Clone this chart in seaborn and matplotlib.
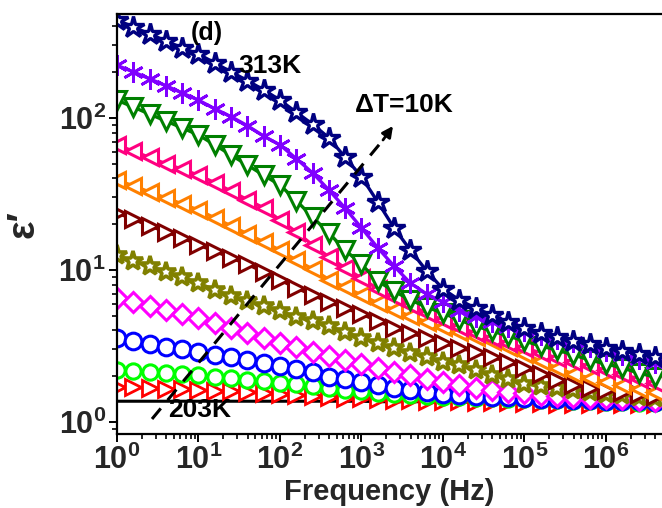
import matplotlib
matplotlib.use("Agg")
import matplotlib.pyplot as plt
import seaborn as sns
from matplotlib.ticker import FixedLocator, LogLocator, NullFormatter

# Frequency grid (Hz), five points per decade
freq = [1, 1.585, 2.512, 3.981, 6.310, 10, 15.85, 25.12, 39.81, 63.10,
        100, 158.5, 251.2, 398.1, 631.0, 1000, 1585, 2512, 3981, 6310,
        1e4, 15850, 25120, 39810, 63100, 1e5, 158500, 251200, 398100, 631000,
        1e6, 1585000, 2512000, 3981000]

# Real part of permittivity at each temperature
eps_203 = [1.37, 1.37, 1.37, 1.37, 1.37, 1.37, 1.37, 1.37, 1.37, 1.37,
           1.37, 1.37, 1.37, 1.37, 1.37, 1.37, 1.36, 1.36, 1.36, 1.36,
           1.35, 1.35, 1.35, 1.34, 1.34, 1.33, 1.33, 1.32, 1.32, 1.31,
           1.31, 1.30, 1.30, 1.30]
eps_213 = [1.70, 1.69, 1.67, 1.65, 1.65, 1.62, 1.60, 1.60, 1.58, 1.55,
           1.53, 1.51, 1.48, 1.46, 1.44, 1.44, 1.42, 1.40, 1.40, 1.37,
           1.37, 1.37, 1.35, 1.35, 1.35, 1.33, 1.33, 1.32, 1.32, 1.32,
           1.32, 1.32, 1.32, 1.32]
eps_223 = [2.20, 2.17, 2.13, 2.10, 2.07, 2.04, 1.98, 1.95, 1.89, 1.86,
           1.80, 1.78, 1.72, 1.67, 1.62, 1.60, 1.55, 1.53, 1.51, 1.48,
           1.46, 1.46, 1.44, 1.44, 1.42, 1.42, 1.40, 1.40, 1.37, 1.37,
           1.35, 1.35, 1.33, 1.33]
eps_233 = [3.57, 3.41, 3.26, 3.12, 3.02, 2.89, 2.76, 2.68, 2.56, 2.45,
           2.34, 2.23, 2.13, 1.99, 1.92, 1.83, 1.75, 1.67, 1.62, 1.58,
           1.53, 1.51, 1.48, 1.46, 1.46, 1.44, 1.42, 1.42, 1.40, 1.40,
           1.37, 1.37, 1.37, 1.35]
eps_243 = [6.55, 6.15, 5.80, 5.46, 5.13, 4.84, 4.48, 4.15, 3.85, 3.57,
           3.30, 3.12, 2.89, 2.72, 2.56, 2.41, 2.27, 2.13, 2.04, 1.92,
           1.83, 1.75, 1.67, 1.62, 1.58, 1.55, 1.51, 1.48, 1.46, 1.44,
           1.44, 1.42, 1.40, 1.37]
eps_253 = [12.5, 11.4, 10.6, 9.7, 8.95, 8.2, 7.4, 6.7, 6.25, 5.8,
           5.37, 4.9, 4.62, 4.27, 3.9, 3.57, 3.3, 3.07, 2.84, 2.68,
           2.48, 2.37, 2.2, 2.04, 1.92, 1.78, 1.72, 1.67, 1.62, 1.58,
           1.53, 1.51, 1.46, 1.44]
eps_263 = [23.7, 21.6, 19.5, 17.8, 16.3, 14.6, 13.3, 12.0, 10.9, 9.7,
           8.6, 7.6, 6.85, 6.15, 5.6, 5.13, 4.62, 4.15, 3.85, 3.57,
           3.3, 3.07, 2.89, 2.68, 2.48, 2.27, 2.07, 1.89, 1.75, 1.67,
           1.62, 1.58, 1.53, 1.48]
eps_273 = [39.0, 35.8, 32.6, 29.8, 27.2, 24.8, 22.0, 19.5, 17.3, 15.3,
           13.5, 11.6, 10.15, 8.65, 7.7, 6.85, 6.06, 5.46, 4.98, 4.55,
           4.2, 3.9, 3.62, 3.41, 3.12, 2.8, 2.52, 2.27, 2.07, 1.95,
           1.83, 1.75, 1.65, 1.58]
eps_283 = [66.5, 60.5, 55.0, 50.0, 46.0, 42.0, 37.5, 33.0, 29.0, 25.6,
           21.3, 17.8, 14.6, 12.2, 10.3, 8.85, 7.5, 6.6, 5.9, 5.2,
           4.69, 4.2, 3.85, 3.57, 3.3, 3.07, 2.85, 2.64, 2.48, 2.33,
           2.2, 2.07, 1.92, 1.8]
eps_293 = [131, 118, 106, 95.5, 86, 77.3, 66.5, 57, 49, 42,
           36.2, 28.6, 22.3, 17.5, 13.5, 10.9, 8.45, 7.25, 6.35, 5.7,
           5.2, 4.69, 4.27, 3.97, 3.68, 3.41, 3.16, 2.98, 2.76, 2.56,
           2.41, 2.27, 2.1, 1.98]
eps_303 = [222, 201, 181, 163, 146, 131, 115, 102, 89, 76,
           66.5, 54, 43.5, 33.6, 25.5, 18.9, 14.0, 10.6, 8.2, 6.95,
           6.15, 5.4, 4.9, 4.55, 4.2, 3.95, 3.73, 3.5, 3.35, 3.1,
           2.93, 2.76, 2.6, 2.44]
eps_313 = [441, 397, 357, 321, 289, 263, 230, 201, 176, 153,
           131, 109, 91, 74, 55, 41, 28, 18.9, 13.5, 9.85,
           7.5, 6.35, 5.6, 5.05, 4.55, 4.15, 3.85, 3.62, 3.41, 3.26,
           3.07, 2.93, 2.80, 2.68]

series = [eps_203, eps_213, eps_223, eps_233, eps_243, eps_253,
          eps_263, eps_273, eps_283, eps_293, eps_303, eps_313]

# Per-temperature styling: (colour, marker, size, edge width)
styles = [
    ("#000000", None, 0, 0),
    ("#ff0000", ">", 11, 2.0),
    ("#00ff00", "o", 11, 2.2),
    ("#0000ff", "o", 12, 2.2),
    ("#ff00ff", "D", 10, 2.2),
    ("#808000", "*", 15, 2.6),
    ("#800000", ">", 12, 2.2),
    ("#ff8000", "<", 12, 2.2),
    ("#ff0080", "<", 12, 2.2),
    ("#008000", "v", 13, 2.2),
    ("#8000ff", (6, 2, 0), 15, 2.0),
    ("#000080", "*", 16, 2.4),
]

x_ticks = [1, 10, 100, 1e3, 1e4, 1e5, 1e6]
x_labels = [r"$\mathbf{10^{0}}$", r"$\mathbf{10^{1}}$", r"$\mathbf{10^{2}}$",
            r"$\mathbf{10^{3}}$", r"$\mathbf{10^{4}}$", r"$\mathbf{10^{5}}$",
            r"$\mathbf{10^{6}}$"]
y_ticks = [1, 10, 100]
y_labels = [r"$\mathbf{10^{0}}$", r"$\mathbf{10^{1}}$", r"$\mathbf{10^{2}}$"]

sns.set_theme(style="ticks")
plt.rcParams["font.family"] = ["Liberation Sans", "DejaVu Sans"]
plt.rcParams["font.weight"] = "bold"
plt.rcParams["mathtext.fontset"] = "custom"
plt.rcParams["mathtext.bf"] = "Liberation Sans:bold"
plt.rcParams["mathtext.rm"] = "Liberation Sans:bold"

W, H = 662, 508
fig = plt.figure(figsize=(W / 100, H / 100), dpi=100)
L, R, T, B = 117, 662, 14, 434
ax = fig.add_axes([L / W, (H - B) / H, (R - L) / W, (B - T) / H])
ax.set_xscale("log")
ax.set_yscale("log")

for vals, (col, mk, ms, mew) in zip(series, styles):
    if mk is None:
        sns.lineplot(x=freq, y=vals, ax=ax, color=col, linewidth=2.2,
                     estimator=None, sort=False)
    else:
        sns.lineplot(x=freq, y=vals, ax=ax, color=col, linewidth=2.4,
                     marker=mk, markersize=ms, markerfacecolor="white",
                     markeredgecolor=col, markeredgewidth=mew,
                     estimator=None, sort=False)

ax.set_xlim(1, 4.87e6)
ax.set_ylim(0.834, 483)

for side in ("left", "bottom", "top"):
    ax.spines[side].set_color("black")
    ax.spines[side].set_linewidth(1.6)
ax.spines["right"].set_visible(False)

ax.xaxis.set_major_locator(FixedLocator(x_ticks))
ax.set_xticklabels(x_labels)
ax.yaxis.set_major_locator(FixedLocator(y_ticks))
ax.set_yticklabels(y_labels)
ax.xaxis.set_minor_locator(LogLocator(base=10, subs=range(2, 10), numticks=20))
ax.yaxis.set_minor_locator(LogLocator(base=10, subs=range(2, 10), numticks=20))
ax.xaxis.set_minor_formatter(NullFormatter())
ax.yaxis.set_minor_formatter(NullFormatter())
ax.tick_params(which="major", direction="out", length=6, width=1.4,
               color="black", labelsize=22, pad=2, top=False, right=False)
ax.tick_params(which="minor", direction="out", length=3.5, width=1.2,
               color="black", top=False, right=False)
ax.tick_params(axis="x", which="major", pad=2)

ax.set_xlabel("Frequency (Hz)", fontsize=21, fontweight="bold", labelpad=1)
ax.set_ylabel("\u03b5\u2032", fontsize=28, fontweight="bold", labelpad=12)
ax.grid(False)


def fx(px):
    return (px - L) / (R - L)


def fy(py):
    return (B - py) / (B - T)


tkw = dict(transform=ax.transAxes, ha="center", va="center",
           fontweight="bold", color="black", zorder=20)
ax.text(fx(207), fy(33), "(d)", fontsize=18, **tkw)
ax.text(fx(270), fy(66), "313K", fontsize=19, **tkw)
ax.text(fx(404), fy(105), "\u0394T=10K", fontsize=19, **tkw)
ax.text(fx(200), fy(410), "203K", fontsize=19, **tkw)

# Dashed guide showing the temperature trend
ax.plot([fx(152), fx(383)], [fy(419), fy(140)], transform=ax.transAxes,
        color="black", linewidth=2.2, linestyle=(0, (4.5, 3.5)), zorder=15,
        clip_on=False)
ax.annotate("", xy=(fx(393), fy(126)), xytext=(fx(383), fy(140)),
            xycoords="axes fraction", textcoords="axes fraction",
            arrowprops=dict(arrowstyle="-|>", color="black", lw=2,
                            mutation_scale=16, shrinkA=0, shrinkB=0),
            zorder=16)

fig.savefig("out.png", dpi=100)
